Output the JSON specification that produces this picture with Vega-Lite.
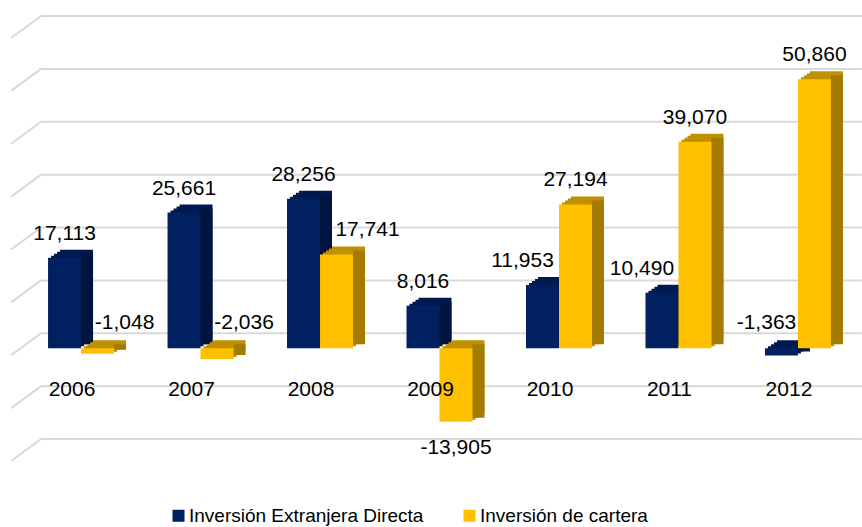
{
  "$schema": "https://vega.github.io/schema/vega-lite/v6.json",
  "width": 845,
  "height": 423,
  "autosize": {"type": "none"},
  "padding": {"left": 17, "top": 31, "right": 0, "bottom": 73},
  "config": {
    "view": {"stroke": null},
    "font": "Liberation Sans",
    "locale": {"number": {"decimal": ".", "thousands": ",", "grouping": [3], "currency": ["$", ""], "minus": "-"}},
    "axisY": {"disable": true},
    "text": {"font": "Liberation Sans", "fontSize": 21, "color": "#000000", "baseline": "middle", "align": "center"}
  },
  "datasets": {
    "inv": [
      {"year": "2006", "serie": "Inversión Extranjera Directa", "v": 17113},
      {"year": "2006", "serie": "Inversión de cartera", "v": -1048},
      {"year": "2007", "serie": "Inversión Extranjera Directa", "v": 25661},
      {"year": "2007", "serie": "Inversión de cartera", "v": -2036},
      {"year": "2008", "serie": "Inversión Extranjera Directa", "v": 28256},
      {"year": "2008", "serie": "Inversión de cartera", "v": 17741},
      {"year": "2009", "serie": "Inversión Extranjera Directa", "v": 8016},
      {"year": "2009", "serie": "Inversión de cartera", "v": -13905},
      {"year": "2010", "serie": "Inversión Extranjera Directa", "v": 11953},
      {"year": "2010", "serie": "Inversión de cartera", "v": 27194},
      {"year": "2011", "serie": "Inversión Extranjera Directa", "v": 10490},
      {"year": "2011", "serie": "Inversión de cartera", "v": 39070},
      {"year": "2012", "serie": "Inversión Extranjera Directa", "v": -1363},
      {"year": "2012", "serie": "Inversión de cartera", "v": 50860}
    ],
    "grid": [
      {"v": -20000}, {"v": -10000}, {"v": 0}, {"v": 10000}, {"v": 20000},
      {"v": 30000}, {"v": 40000}, {"v": 50000}, {"v": 60000}
    ]
  },
  "layer": [
    {
      "data": {"name": "grid"},
      "mark": {"type": "rule", "color": "#D9D9D9", "strokeWidth": 2, "yOffset": -15, "xOffset": -7, "x2Offset": 31},
      "encoding": {
        "x": {"datum": "2006", "type": "nominal", "bandPosition": 0, "title": null, "scale": {"type": "band", "paddingInner": 0.448, "paddingOuter": 0.26}},
        "x2": {"datum": "2012", "bandPosition": 1},
        "y": {"field": "v", "type": "quantitative", "scale": {"domain": [-20000, 60000], "nice": false, "zero": false}, "title": null}
      }
    },
    {
      "data": {"name": "grid"},
      "mark": {"type": "rule", "color": "#D9D9D9", "strokeWidth": 2, "xOffset": -37, "x2Offset": -7, "yOffset": 7, "y2Offset": -15},
      "encoding": {
        "x": {"datum": "2006", "type": "nominal", "bandPosition": 0, "title": null},
        "x2": {"datum": "2006", "bandPosition": 0},
        "y": {"field": "v", "type": "quantitative", "title": null},
        "y2": {"field": "v"}
      }
    },
    {
      "data": {"name": "inv"},
      "transform": [{"filter": "datum.serie == 'Inversión Extranjera Directa'"}],
      "layer": [
        {"mark": {"type": "bar", "width": {"band": 0.5}, "xOffset": -13.5, "yOffset": -2, "color": "#001A50"}},
        {"mark": {"type": "bar", "width": {"band": 0.5}, "xOffset": -10.5, "yOffset": -4, "color": "#001A50"}},
        {"mark": {"type": "bar", "width": {"band": 0.5}, "xOffset": -7.5, "yOffset": -6, "color": "#001A50"}},
        {"mark": {"type": "bar", "width": {"band": 0.5}, "xOffset": -4.5, "yOffset": -8, "color": "#001A50"}},
        {"mark": {"type": "rule", "xOffset": 6, "yOffset": -4, "y2Offset": -4, "strokeWidth": 12, "strokeCap": "butt", "color": "#00143F"},
         "encoding": {"y2": {"datum": 0}}}
      ],
      "encoding": {
        "x": {"field": "year", "type": "nominal", "title": null},
        "y": {"field": "v", "type": "quantitative", "title": null}
      }
    },
    {
      "data": {"name": "inv"},
      "transform": [{"filter": "datum.serie == 'Inversión de cartera'"}],
      "layer": [
        {"mark": {"type": "bar", "width": {"band": 0.5}, "xOffset": 19.5, "yOffset": -2, "color": "#BF9000"}},
        {"mark": {"type": "bar", "width": {"band": 0.5}, "xOffset": 22.5, "yOffset": -4, "color": "#BF9000"}},
        {"mark": {"type": "bar", "width": {"band": 0.5}, "xOffset": 25.5, "yOffset": -6, "color": "#BF9000"}},
        {"mark": {"type": "bar", "width": {"band": 0.5}, "xOffset": 28.5, "yOffset": -8, "color": "#BF9000"}},
        {"mark": {"type": "rule", "xOffset": 39, "yOffset": -4, "y2Offset": -4, "strokeWidth": 12, "strokeCap": "butt", "color": "#A47A00"},
         "encoding": {"y2": {"datum": 0}}}
      ],
      "encoding": {
        "x": {"field": "year", "type": "nominal", "title": null},
        "y": {"field": "v", "type": "quantitative", "title": null}
      }
    },
    {
      "data": {"name": "inv"},
      "transform": [{"filter": "datum.serie == 'Inversión Extranjera Directa'"}],
      "mark": {"type": "bar", "width": {"band": 0.5}, "xOffset": -16.5},
      "encoding": {
        "x": {"field": "year", "type": "nominal", "title": null,
              "axis": {"offset": -84, "domain": false, "ticks": false, "grid": false, "labelFontSize": 21, "labelColor": "#000000", "labelOffset": -9, "labelPadding": 8, "labelAngle": 0, "labelAlign": "center", "labelBaseline": "top", "zindex": 1, "labelFont": "Liberation Sans"}},
        "y": {"field": "v", "type": "quantitative", "title": null},
        "color": {
          "field": "serie", "type": "nominal",
          "scale": {"domain": ["Inversión Extranjera Directa", "Inversión de cartera"], "range": ["#002060", "#FFC000"]},
          "legend": {"orient": "none", "legendX": 152, "legendY": 475, "direction": "horizontal", "title": null, "symbolType": "square", "symbolSize": 144, "symbolStrokeWidth": 0, "labelFontSize": 19, "labelLimit": 400, "columnPadding": 36, "labelOffset": 1, "labelColor": "#000000", "labelFont": "Liberation Sans"}
        }
      }
    },
    {
      "data": {"name": "inv"},
      "transform": [{"filter": "datum.serie == 'Inversión de cartera'"}],
      "mark": {"type": "bar", "width": {"band": 0.5}, "xOffset": 16.5},
      "encoding": {
        "x": {"field": "year", "type": "nominal", "title": null},
        "y": {"field": "v", "type": "quantitative", "title": null},
        "color": {"field": "serie", "type": "nominal"}
      }
    },
    {
      "data": {"name": "inv"},
      "transform": [{"filter": "datum.v > 0 && datum.serie == 'Inversión Extranjera Directa' && datum.year != '2010' && datum.year != '2011'"}],
      "mark": {"type": "text", "dy": -24, "dx": -16.5},
      "encoding": {
        "x": {"field": "year", "type": "nominal", "title": null},
        "y": {"field": "v", "type": "quantitative", "title": null},
        "text": {"field": "v", "type": "quantitative", "format": ","}
      }
    },
    {
      "data": {"name": "inv"},
      "transform": [{"filter": "datum.serie == 'Inversión Extranjera Directa' && (datum.year == '2010' || datum.year == '2011')"}],
      "mark": {"type": "text", "dy": -24, "dx": -36.5},
      "encoding": {
        "x": {"field": "year", "type": "nominal", "title": null},
        "y": {"field": "v", "type": "quantitative", "title": null},
        "text": {"field": "v", "type": "quantitative", "format": ","}
      }
    },
    {
      "data": {"name": "inv"},
      "transform": [{"filter": "datum.v > 0 && datum.serie == 'Inversión de cartera' && datum.year != '2008'"}],
      "mark": {"type": "text", "dy": -24, "dx": 16.5},
      "encoding": {
        "x": {"field": "year", "type": "nominal", "title": null},
        "y": {"field": "v", "type": "quantitative", "title": null},
        "text": {"field": "v", "type": "quantitative", "format": ","}
      }
    },
    {
      "data": {"name": "inv"},
      "transform": [{"filter": "datum.serie == 'Inversión de cartera' && datum.year == '2008'"}],
      "mark": {"type": "text", "dy": -24, "dx": 47.5},
      "encoding": {
        "x": {"field": "year", "type": "nominal", "title": null},
        "y": {"field": "v", "type": "quantitative", "title": null},
        "text": {"field": "v", "type": "quantitative", "format": ","}
      }
    },
    {
      "data": {"name": "inv"},
      "transform": [{"filter": "datum.v < 0 && datum.v > -5000 && datum.serie == 'Inversión de cartera'"}],
      "mark": {"type": "text", "dy": -25, "dx": 43.5},
      "encoding": {
        "x": {"field": "year", "type": "nominal", "title": null},
        "y": {"datum": 0, "type": "quantitative"},
        "text": {"field": "v", "type": "quantitative", "format": ","}
      }
    },
    {
      "data": {"name": "inv"},
      "transform": [{"filter": "datum.v < 0 && datum.serie == 'Inversión Extranjera Directa'"}],
      "mark": {"type": "text", "dy": -25, "dx": -31.5},
      "encoding": {
        "x": {"field": "year", "type": "nominal", "title": null},
        "y": {"datum": 0, "type": "quantitative"},
        "text": {"field": "v", "type": "quantitative", "format": ","}
      }
    },
    {
      "data": {"name": "inv"},
      "transform": [{"filter": "datum.v <= -5000"}],
      "mark": {"type": "text", "dy": 26, "dx": 16.5},
      "encoding": {
        "x": {"field": "year", "type": "nominal", "title": null},
        "y": {"field": "v", "type": "quantitative", "title": null},
        "text": {"field": "v", "type": "quantitative", "format": ","}
      }
    }
  ]
}
